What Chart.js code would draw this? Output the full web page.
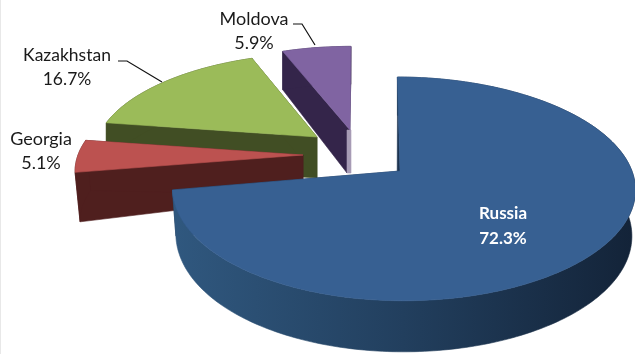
<!DOCTYPE html>
<html>
<head>
<meta charset="utf-8">
<style>html,body{margin:0;padding:0;background:#fff}canvas{display:block}
#edge{position:absolute;left:0;top:0;width:1px;height:354px;background:#e8e8e8}</style>
<script src="https://cdn.jsdelivr.net/npm/chart.js@4"></script>
</head>
<body>
<canvas id="c" width="635" height="354"></canvas>
<div id="edge"></div>
<script>
const categories = ["Russia", "Georgia", "Kazakhstan", "Moldova"];
const shareValues = [72.3, 5.1, 16.7, 5.9];
const topColors = ["#376092", "#BC5250", "#9BBB59", "#8064A2"];
const wallColors = ["#1B3350", "#4F1F1E", "#414E24", "#34254A"];

// Drawing geometry of the tilted, exploded pie (style only, no data)
const PERSPECTIVE = 0.16;
const tilt = [
  {x:400, y:171, rx:228.5, ry:109, e:0.015, sk:-3, s:0.985, d0:45, dv:-8, du:0, ax:-3},
  {x:303, y:155, rx:225,   ry:100, e:0,     sk:0,  s:0.978, d0:40, dv:0,  du:10, ax:0},
  {x:317, y:137, rx:219,   ry:97,  e:0,     sk:5,  s:1,     d0:41, dv:0,  du:0, ax:0},
  {x:350, y:130, rx:216,   ry:97,  e:0,     sk:1,  s:1,     d0:43, dv:-5, du:0, ax:-3}
];
const labelSpots = [
  {x:503, y:214, color:"#fff", font:"bold 17px Lato"},
  {x:41,  y:139, color:"#1a1a1a", font:"18px Lato"},
  {x:67,  y:55,  color:"#1a1a1a", font:"17.5px Lato"},
  {x:254, y:19,  color:"#1a1a1a", font:"18px Lato"}
];
const leaders = [
  null, null,
  [[118,61],[127,61],[162,82]],
  [[293,24],[302,24],[315,45]]
];

function top3d(g,u,v){
  const w = 1 + PERSPECTIVE*v;
  return [g.x + (g.rx*(u + g.e*u*u) + g.sk*v)/w, g.y - g.ry*v/w];
}
function bottom3d(g,u,v){
  const p = top3d(g,u,v);
  const d = g.d0 + g.dv*v + g.du*Math.abs(u);
  return [g.x + (p[0]-g.x)*g.s, g.y + (p[1]-g.y)*g.s + d];
}
function poly(ctx,pts,fill){
  ctx.beginPath();
  pts.forEach((p,i)=> i?ctx.lineTo(p[0],p[1]):ctx.moveTo(p[0],p[1]));
  ctx.closePath();
  ctx.fillStyle = fill; ctx.fill();
  ctx.strokeStyle = fill; ctx.lineWidth = 0.6; ctx.stroke();
}
function arcPoints(start,end){
  const n = Math.max(4, Math.ceil((end-start)/(Math.PI/180)));
  const out = [];
  for(let i=0;i<=n;i++){
    const a = start + (end-start)*i/n;
    out.push([Math.cos(a), -Math.sin(a)]);
  }
  return out;
}

const pie3d = {
  id:"pie3d",
  beforeDatasetDraw(chart){
    const ctx = chart.ctx;
    const arcs = chart.getDatasetMeta(0).data;
    ctx.save();
    [3,2,1,0].forEach(i=>{
      const g = tilt[i], el = arcs[i];
      const rim = arcPoints(el.startAngle, el.endAngle);
      const a = rim[0], b = rim[rim.length-1];
      let wall = wallColors[i];
      if(i===0){
        const gr = ctx.createLinearGradient(172,0,635,0);
        gr.addColorStop(0,"#30587F");
        gr.addColorStop(0.5,"#223F5E");
        gr.addColorStop(1,"#132338");
        wall = gr;
      }
      const centreTop = top3d(g,0,0);
      const cb = bottom3d(g,0,0);
      const centreBottom = [cb[0]+g.ax, cb[1]];
      // radial side walls
      poly(ctx,[centreTop,top3d(g,a[0],a[1]),bottom3d(g,a[0],a[1]),centreBottom],wallColors[i]);
      poly(ctx,[centreTop,top3d(g,b[0],b[1]),bottom3d(g,b[0],b[1]),centreBottom],wallColors[i]);
      // pale edge-on face of the small upright slice
      if(i===3){
        poly(ctx,[[centreTop[0]-3,centreTop[1]],[centreTop[0]+1,centreTop[1]],[centreTop[0]+1,cb[1]],[centreTop[0]-3,cb[1]]],"#A79CB5");
      }
      // outer wall
      const tops = rim.map(p=>top3d(g,p[0],p[1]));
      const bots = rim.map(p=>bottom3d(g,p[0],p[1])).reverse();
      poly(ctx,tops.concat(bots),wall);
      // top face
      poly(ctx,[centreTop].concat(tops),topColors[i]);
    });
    ctx.restore();
    return false;
  },
  afterDatasetsDraw(chart){
    const ctx = chart.ctx;
    ctx.save();
    ctx.textAlign = "center";
    ctx.textBaseline = "middle";
    categories.forEach((name,i)=>{
      const s = labelSpots[i];
      ctx.font = s.font; ctx.fillStyle = s.color;
      ctx.fillText(name, s.x, s.y);
      ctx.fillText(shareValues[i].toFixed(1)+"%", s.x, s.y+24.5);
      if(leaders[i]){
        ctx.beginPath();
        leaders[i].forEach((p,j)=> j?ctx.lineTo(p[0],p[1]):ctx.moveTo(p[0],p[1]));
        ctx.strokeStyle="#111"; ctx.lineWidth=1.2; ctx.stroke();
      }
    });
    ctx.restore();
  }
};

new Chart(document.getElementById("c"),{
  type:"pie",
  data:{labels:categories,datasets:[{data:shareValues,backgroundColor:topColors,borderWidth:0}]},
  options:{
    responsive:false,animation:false,
    rotation:0,
    plugins:{legend:{display:false},tooltip:{enabled:false}}
  },
  plugins:[pie3d]
});
</script>
</body>
</html>
